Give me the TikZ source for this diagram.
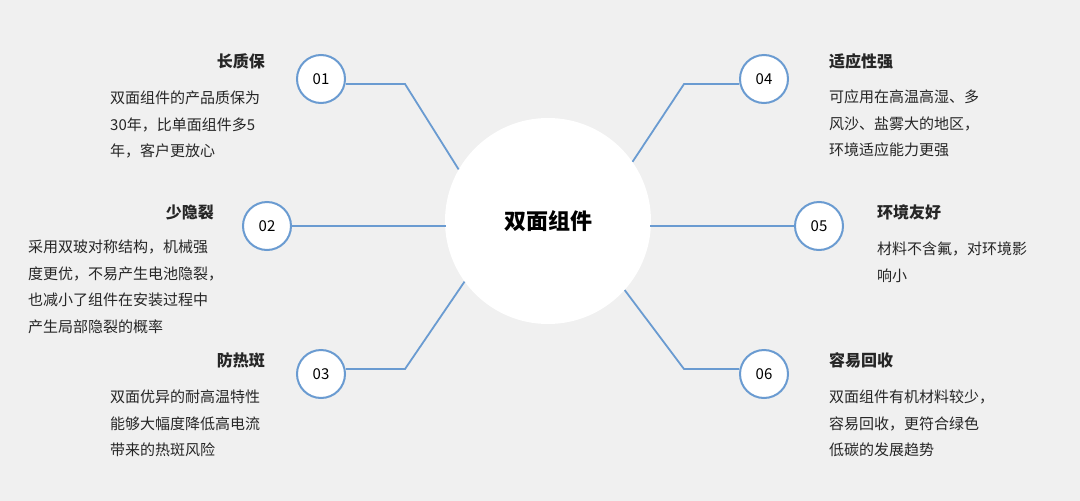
\documentclass[tikz,border=0pt]{standalone}
\usepackage{fontspec}
\setmainfont{Noto Sans CJK SC}
\begin{document}
\begin{tikzpicture}[x=1pt,y=-1pt,
  numc/.style={circle,draw=lineblue,line width=2pt,fill=white,minimum size=48pt,inner sep=0pt,font=\fontsize{15}{15}\selectfont},
  conn/.style={draw=lineblue,line width=1.8pt},
  ttl/.style={font=\fontsize{16}{16}\selectfont\bfseries,text=black!85,inner sep=0pt},
  bodyL/.style={font=\fontsize{15}{26.5}\selectfont,text=black!85,align=left,inner sep=0pt,anchor=north west},
]
\definecolor{lineblue}{HTML}{6A9BD1}
\fill[black!6] (0,0) rectangle (1080,501);
\useasboundingbox (0,0) rectangle (1080,501);
\node[circle,fill=white,minimum size=206pt,inner sep=0pt,font=\fontsize{22}{22}\selectfont\bfseries] (c) at (548,221) {双面组件};
\node[numc] (n1) at (321,79) {01};
\node[numc] (n2) at (267,226) {02};
\node[numc] (n3) at (321,374) {03};
\node[numc] (n4) at (764,79) {04};
\node[numc] (n5) at (819,226) {05};
\node[numc] (n6) at (764,374) {06};
\coordinate (b1) at (405,84); \coordinate (b3) at (405,369);
\coordinate (b4) at (684,84); \coordinate (b6) at (684,369);
\coordinate (e2) at (446,226); \coordinate (e5) at (650,226);
\draw[conn] (n1.east |- b1) -- (b1) -- (c.150);
\draw[conn] (n2) -- (e2);
\draw[conn] (n3.east |- b3) -- (b3) -- (c.216);
\draw[conn] (n4.west |- b4) -- (b4) -- (c.35);
\draw[conn] (n5) -- (e5);
\draw[conn] (n6.west |- b6) -- (b6) -- (c.318);
\node[ttl,anchor=east] (t1) at (265,61) {长质保};
\node[bodyL] (d1) at (110,91) {双面组件的产品质保为\\30年，比单面组件多5\\年，客户更放心};
\node[ttl,anchor=east] (t2) at (214,212) {少隐裂};
\node[bodyL] (d2) at (28,240) {采用双玻对称结构，机械强\\度更优，不易产生电池隐裂，\\也减小了组件在安装过程中\\产生局部隐裂的概率};
\node[ttl,anchor=east] (t3) at (265,360) {防热斑};
\node[bodyL] (d3) at (110,390) {双面优异的耐高温特性\\能够大幅度降低高电流\\带来的热斑风险};
\node[ttl,anchor=west] (t4) at (829,61) {适应性强};
\node[bodyL] (d4) at (829,90) {可应用在高温高湿、多\\风沙、盐雾大的地区，\\环境适应能力更强};
\node[ttl,anchor=west] (t5) at (877,212) {环境友好};
\node[bodyL] (d5) at (877,242) {材料不含氟，对环境影\\响小};
\node[ttl,anchor=west] (t6) at (829,360) {容易回收};
\node[bodyL] (d6) at (829,390) {双面组件有机材料较少，\\容易回收，更符合绿色\\低碳的发展趋势};
\end{tikzpicture}
\end{document}
